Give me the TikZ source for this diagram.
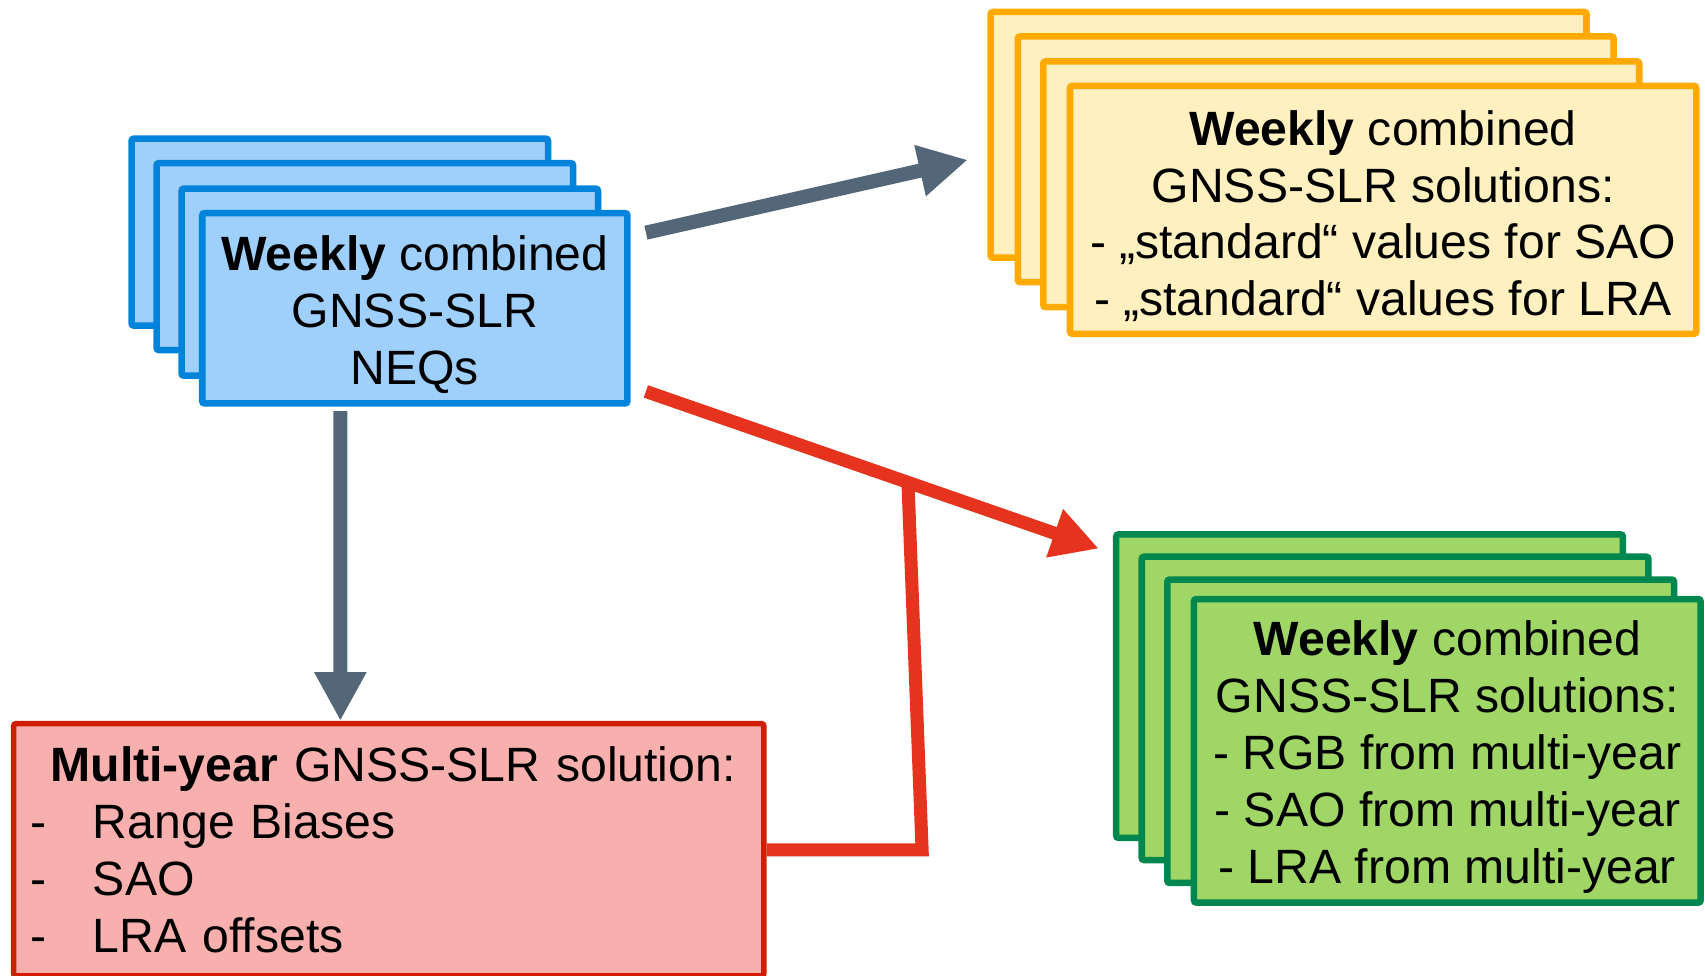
\documentclass[tikz,border=0pt]{standalone}
\usepackage{fontspec}
\setmainfont{Liberation Sans}
\usetikzlibrary{arrows.meta}
\definecolor{neqfill}{HTML}{9FCFFB}
\definecolor{neqline}{HTML}{0084DB}
\definecolor{stdfill}{HTML}{FFF0BF}
\definecolor{stdline}{HTML}{FFAA00}
\definecolor{mltfill}{HTML}{A0D666}
\definecolor{mltline}{HTML}{00874F}
\definecolor{solfill}{HTML}{F7B0AE}
\definecolor{solline}{HTML}{D21E00}
\definecolor{slate}{HTML}{546779}
\definecolor{signal}{HTML}{E5331D}
\newcommand{\topstrut}{\rule{0pt}{12.4pt}}
\begin{document}
\begin{tikzpicture}
    \tikzset{%
      box/.style={draw, line width=0.6mm, rounded corners=0.6pt, inner
        sep=0pt, align=center, font=\fontsize{12.6}{14.9}\selectfont},
      bluebox/.style={box, fill=neqfill, draw=neqline, minimum
        width=3.83cm, minimum height=1.72cm},
      yellowbox/.style={box, fill=stdfill, draw=stdline, minimum
        width=5.48cm, minimum height=2.26cm},
      greenbox/.style={box, fill=mltfill, draw=mltline, minimum
        width=4.66cm, minimum height=2.79cm},
      redbox/.style={box, fill=solfill, draw=solline, line width=0.5mm,
        minimum width=6.90cm, minimum height=2.32cm, align=left, inner
        xsep=1.6mm, text width=6.58cm},
      greyarrow/.style={slate, line width=1.3mm,
        -{Triangle[length=4.5mm, width=4.5mm]}},
      redarrow/.style={signal, line width=1.2mm,
        -{Triangle[length=4.3mm, width=4.4mm]}},
      redline/.style={signal, line width=1.2mm},
    }
    \useasboundingbox (0,0) rectangle (15.68,-8.967);
    % NEQs
    \node[bluebox] (N1) at (3.125,-2.135) {};
    \node[bluebox] (N2) at (3.355,-2.36) {};
    \node[bluebox] (N3) at (3.585,-2.595) {};
    \node[bluebox, minimum width=3.91cm, minimum height=1.75cm] (N) at
      (3.815,-2.835) {\topstrut\textbf{Weekly} combined\\GNSS-SLR\\NEQs};
    % standard values
    \node[yellowbox] (S1) at (11.85,-1.24) {};
    \node[yellowbox] (S2) at (12.10,-1.465) {};
    \node[yellowbox] (S3) at (12.335,-1.695) {};
    \node[yellowbox, minimum width=5.76cm, minimum height=2.28cm] (S) at
      (12.72,-1.93) {\topstrut\textbf{Weekly} combined\\GNSS-SLR solutions:\\
      - „standard“ values for SAO\\ - „standard“ values for LRA};
    % from multi-year
    \node[greenbox] (G1) at (12.595,-6.31) {};
    \node[greenbox] (G2) at (12.83,-6.515) {};
    \node[greenbox] (G3) at (13.065,-6.725) {};
    \node[greenbox] (G) at (13.31,-6.905) {\topstrut\textbf{Weekly} combined\\
      GNSS-SLR solutions:\\- RGB from multi-year\\- SAO from multi-year\\
      - LRA from multi-year};
    \node[redbox] (M) at (3.575,-7.815) {\hspace*{1.8mm}\textbf{Multi-year}
      GNSS-SLR solution:\\
      \makebox[5.7mm][l]{-}Range Biases\\
      \makebox[5.7mm][l]{-}SAO\\
      \makebox[5.7mm][l]{-}LRA offsets};

    \draw [greyarrow] ([xshift=-6.85mm, yshift=-0.4mm]N.south) --
      ([xshift=-4.45mm]M.north);
    \draw [greyarrow] ([shift={(0.14,-0.21)}]N.north east) --
      ([shift={(-0.18,-0.23)}]S1.west);
    \draw [redarrow] ([shift={(0.14,0.14)}]N.south east) --
      ([shift={(-0.13,-0.16)}]G1.north west);
    \coordinate (K) at (8.48,-7.815);
    \coordinate (J) at (8.35,-4.44);
    \draw [redline] (M.east) -- (K) -- (J);
\end{tikzpicture}
\end{document}
